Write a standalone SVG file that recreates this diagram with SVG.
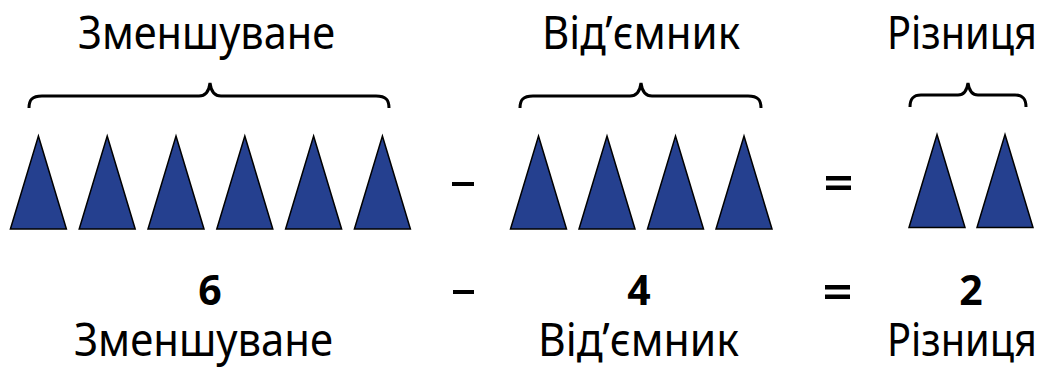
<svg xmlns="http://www.w3.org/2000/svg" width="1050" height="369" viewBox="0 0 1050 369">
<style>
.lbl{font-family:"Noto Sans","Open Sans","DejaVu Sans",sans-serif;font-size:45px;fill:#000}
.num{font-family:"Noto Sans","Open Sans","DejaVu Sans",sans-serif;font-size:41px;font-weight:bold;fill:#000;text-anchor:middle}
.tri{fill:#25408f;stroke:#000;stroke-width:1.5;stroke-linejoin:miter}
.brace{fill:none;stroke:#000;stroke-width:3}
.op{fill:#000}
</style>
<defs>
<polygon id="t1" points="0,0 28,93 -28,93"/>
</defs>
<rect width="1050" height="369" fill="#fff"/>
<g id="labels-top">
<text class="lbl" x="78" y="49" textLength="257" lengthAdjust="spacingAndGlyphs">Зменшуване</text>
<text class="lbl" x="542" y="49" textLength="198" lengthAdjust="spacingAndGlyphs">Від’ємник</text>
<text class="lbl" x="887" y="49" textLength="150" lengthAdjust="spacingAndGlyphs">Різниця</text>
</g>
<g id="connectors">
<path class="brace" d="M29,108 C29,100 32,96 42,96 L199,96 C206,96 209,91 210,83 C211,91 214,96 221,96 L376,96 C386,96 389,100 389,108"/>
<path class="brace" d="M520,108 C520,100 523,96 533,96 L630,96 C637,96 640,91 641,83 C642,91 645,96 652,96 L748,96 C758,96 761,100 761,108"/>
<path class="brace" d="M910,107 C910,99 913,95 921,95 L958,95 C964,95 967,90 968,83 C969,90 972,95 978,95 L1015,95 C1023,95 1026,99 1026,107"/>
</g>
<g id="minuend">
<use href="#t1" class="tri" x="38.4" y="136"/>
<use href="#t1" class="tri" x="107.2" y="136"/>
<use href="#t1" class="tri" x="176" y="136"/>
<use href="#t1" class="tri" x="244.8" y="136"/>
<use href="#t1" class="tri" x="313.6" y="136"/>
<use href="#t1" class="tri" x="382.4" y="136"/>
</g>
<g id="minus-top"><rect class="op" x="452" y="182" width="22" height="4"/></g>
<g id="subtrahend">
<use href="#t1" class="tri" x="538.5" y="136"/>
<use href="#t1" class="tri" x="607" y="136"/>
<use href="#t1" class="tri" x="675.5" y="136"/>
<use href="#t1" class="tri" x="744" y="136"/>
</g>
<g id="equals-top"><rect class="op" x="826" y="176" width="25" height="4.5"/><rect class="op" x="826" y="185.5" width="25" height="4.5"/></g>
<g id="difference">
<use href="#t1" class="tri" x="937" y="134.5"/>
<use href="#t1" class="tri" x="1005" y="134.5"/>
</g>
<g id="numbers">
<text class="num" x="210" y="305">6</text>
<rect class="op" x="453" y="290" width="21" height="4"/>
<text class="num" x="639" y="305">4</text>
<rect class="op" x="825" y="285" width="25" height="4.5"/><rect class="op" x="825" y="294.5" width="25" height="4.5"/>
<text class="num" x="971" y="305">2</text>
</g>
<g id="labels-bottom">
<text class="lbl" x="74" y="356" textLength="259" lengthAdjust="spacingAndGlyphs">Зменшуване</text>
<text class="lbl" x="538" y="356" textLength="201" lengthAdjust="spacingAndGlyphs">Від’ємник</text>
<text class="lbl" x="887" y="356" textLength="150" lengthAdjust="spacingAndGlyphs">Різниця</text>
</g>
</svg>
